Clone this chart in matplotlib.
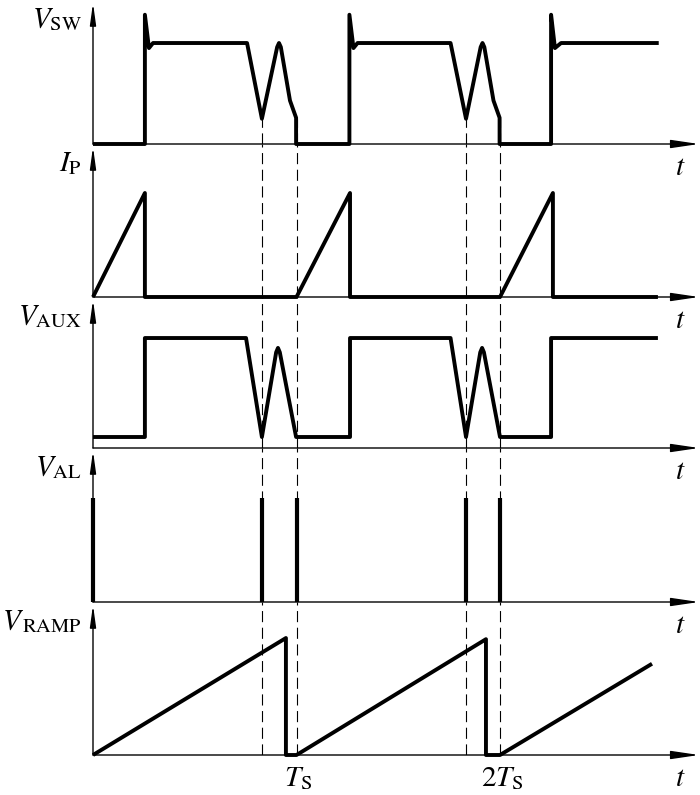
import matplotlib.pyplot as plt

# ==============================
# Datos de las formas de onda (t en unidades de Ts)
# ==============================
vsw_t = [0, 0.255, 0.255, 0.275, 0.295, 0.757, 0.83, 0.905, 0.914, 0.923, 0.968, 0.998, 0.998,
         1.26, 1.26, 1.28, 1.30, 1.757, 1.833, 1.905, 1.914, 1.923, 1.968, 1.998, 1.998,
         2.251, 2.251, 2.27, 2.30, 2.78]
vsw_v = [0, 0, 1.28, 0.95, 1.0, 1.0, 0.25, 0.96, 1.0, 0.96, 0.43, 0.26, 0,
         0, 1.28, 0.95, 1.0, 1.0, 0.25, 0.96, 1.0, 0.96, 0.43, 0.26, 0,
         0, 1.28, 0.95, 1.0, 1.0]

ip_t = [0, 0.255, 0.255, 1.0, 1.263, 1.263, 2.0, 2.26, 2.26, 2.776]
ip_v = [0, 1, 0, 0, 1, 0, 0, 1, 0, 0]

vaux_t = [0, 0.255, 0.255, 0.752, 0.83, 0.9, 0.909, 0.918, 0.998,
          1.263, 1.263, 1.757, 1.833, 1.903, 1.912, 1.921, 2.0,
          2.251, 2.251, 2.776]
vaux_v = [0.1, 0.1, 1.0, 1.0, 0.1, 0.87, 0.91, 0.87, 0.1,
          0.1, 1.0, 1.0, 0.1, 0.87, 0.91, 0.87, 0.1,
          0.1, 1.0, 1.0]

val_t = [0, 0.83, 1.0, 1.833, 2.0]
val_h = [1, 1, 1, 1, 1]

vramp_t = [0, 0.948, 0.948, 1.0, 1.931, 1.931, 2.0, 2.747]
vramp_v = [0, 1.0, 0, 0, 0.99, 0, 0, 0.78]

dash_t = [0.83, 1.0, 1.833, 2.0]
labels = [r"$V_{\mathrm{SW}}$", r"$I_{\mathrm{P}}$", r"$V_{\mathrm{AUX}}$",
          r"$V_{\mathrm{AL}}$", r"$V_{\,\mathrm{RAMP}}$"]
ts_labels = [r"$T_{\mathrm{S}}$", r"$2T_{\mathrm{S}}$"]
ts_pos = [1.0, 2.0]

# ==============================
# Geometria (pixeles de la figura 700x795)
# ==============================
W, H = 700, 795
x0_px, ts_px = 93, 203.5
baselines = [144, 297, 448, 602, 755]
tops = [0, 144, 297, 448, 602]
ytop = [1.426, 1.471, 1.373, 1.481, 1.308]   # limite superior de cada panel
xlim = (-x0_px / ts_px, (W - x0_px) / ts_px)
px = 0.72  # puntos por pixel a dpi 100

plt.rcParams["mathtext.fontset"] = "stix"
plt.rcParams["font.family"] = "Liberation Serif"

fig = plt.figure(figsize=(7, 7.95), dpi=100)
axes = []
for b, tp, yt in zip(baselines, tops, ytop):
    ax = fig.add_axes([0, 1 - b / H, 1, (b - tp) / H])
    ax.set_xlim(*xlim)
    ax.set_ylim(0, yt)
    ax.axis("off")
    axes.append(ax)

wave = dict(color="black", lw=2.8, solid_joinstyle="round", solid_capstyle="butt",
            clip_on=False, zorder=3)
dash = dict(color="black", lw=0.8, linestyle=(0, (10, 5)), zorder=1)

axes[0].plot(vsw_t, vsw_v, **wave)
axes[1].plot(ip_t, ip_v, **wave)
axes[2].plot(vaux_t, vaux_v, **wave)
axes[3].vlines(val_t, 0, val_h, color="black", lw=3.0, zorder=3, clip_on=False)
axes[4].plot(vramp_t, vramp_v, **wave)

# lineas discontinuas verticales
axes[0].vlines(dash_t, 0, 0.25, **dash)
for ax in axes[1:]:
    for t in dash_t:
        ax.axvline(t, 0, 1, **dash)

# ejes con flechas
t_end = (699 - x0_px) / ts_px
t_lab = (680 - x0_px) / ts_px
for ax, b, tp, lab in zip(axes, baselines, tops, labels):
    h = b - tp
    ax.annotate("", xy=(t_end, 0), xytext=(0, 0), annotation_clip=False,
                arrowprops=dict(arrowstyle="-|>,head_length=1.7,head_width=0.25",
                                lw=1.0, color="black", shrinkA=0, shrinkB=0))
    ax.annotate("", xy=(0, 1 - 3 / h), xytext=(0, 0),
                xycoords=("data", "axes fraction"), textcoords=("data", "axes fraction"),
                annotation_clip=False,
                arrowprops=dict(arrowstyle="-|>,head_length=1.3,head_width=0.18",
                                lw=1.0, color="black", shrinkA=0, shrinkB=0))
    ax.annotate(lab, xy=(0, 1), xycoords=("data", "axes fraction"),
                xytext=(-11 * px, -20 * px), textcoords="offset points",
                ha="right", va="center", fontsize=21, annotation_clip=False)
    ax.annotate(r"$t$", xy=(t_lab, 0), xytext=(0, -24 * px), textcoords="offset points",
                ha="center", va="center", fontsize=21, annotation_clip=False)

for lab, t in zip(ts_labels, ts_pos):
    axes[4].annotate(lab, xy=(t, 0), xytext=(2 * px, -24 * px), textcoords="offset points",
                     ha="center", va="center", fontsize=21, annotation_clip=False)

fig.savefig("out.png", dpi=100, facecolor="white")
